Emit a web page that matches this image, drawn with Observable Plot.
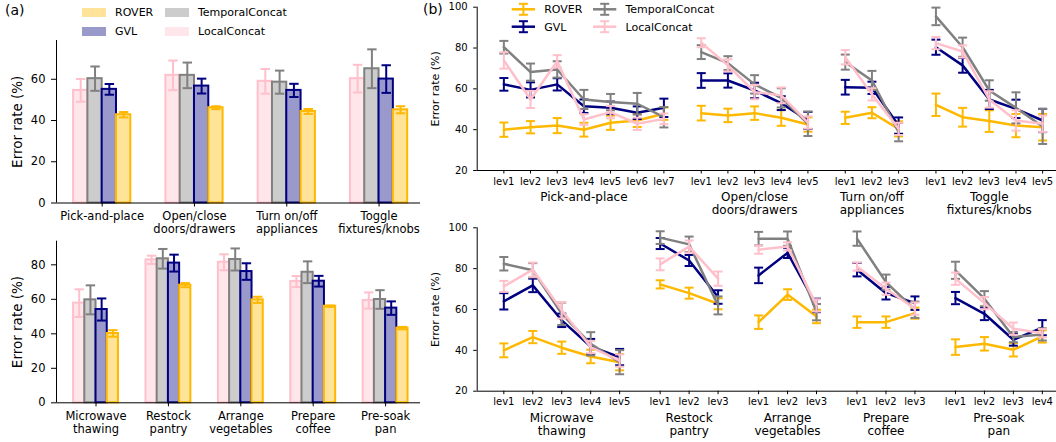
<!DOCTYPE html>
<html><head><meta charset="utf-8">
<script src="https://cdn.jsdelivr.net/npm/d3@7"></script>
<script src="https://cdn.jsdelivr.net/npm/@observablehq/plot@0.6"></script>
<style>
body{margin:0;background:#fff;}
#root{position:relative;width:1056px;height:442px;overflow:hidden;font-family:"DejaVu Sans",sans-serif;background:#fff;}
.panel{position:absolute;}
.lbl{position:absolute;font-size:14px;line-height:1;}
</style></head><body>
<div id="root">
  <div class="panel" id="a1" style="left:0;top:0;width:420px;"></div>
  <div class="panel" id="a2" style="left:0;top:240px;width:420px;"></div>
  <div class="panel" id="b1" style="left:420px;top:0;width:636px;"></div>
  <div class="panel" id="b2" style="left:420px;top:225px;width:636px;"></div>
  <div class="lbl" style="left:5px;top:3px;">(a)</div>
  <div class="lbl" style="left:423px;top:2px;">(b)</div>
</div>
<script>
// ---------- data: panel (a) top ----------
const tasksA1 = ["Pick-and-place", "Open/close\ndoors/drawers", "Turn on/off\nappliances", "Toggle\nfixtures/knobs"];
const a1Local = [54.6, 61.9, 59.0, 60.3];
const a1LocalErr = [5.5, 7.2, 6.0, 6.7];
const a1Temporal = [60.3, 61.9, 58.6, 65.1];
const a1TemporalErr = [5.9, 6.2, 5.6, 9.4];
const a1GVL = [55.1, 56.7, 54.6, 60.1];
const a1GVLErr = [2.6, 3.6, 3.2, 6.7];
const a1Rover = [42.8, 46.2, 44.4, 45.2];
const a1RoverErr = [1.3, 0.7, 1.2, 1.7];

// ---------- data: panel (a) bottom ----------
const tasksA2 = ["Microwave\nthawing", "Restock\npantry", "Arrange\nvegetables", "Prepare\ncoffee", "Pre-soak\npan"];
const a2Local = [57.8, 82.9, 81.5, 70.3, 59.3];
const a2LocalErr = [8.0, 2.4, 4.6, 3.2, 4.7];
const a2Temporal = [59.7, 83.5, 83.1, 75.7, 59.9];
const a2TemporalErr = [8.4, 5.7, 6.4, 6.3, 5.4];
const a2GVL = [54.1, 81.0, 76.1, 70.5, 54.9];
const a2GVLErr = [6.4, 4.9, 4.8, 3.1, 3.9];
const a2Rover = [40.2, 68.2, 59.7, 56.0, 43.3];
const a2RoverErr = [1.9, 1.2, 1.8, 0.4, 0.7];

// ---------- data: panel (b) top ----------
const tasksB1 = ["Pick-and-place", "Open/close\ndoors/drawers", "Turn on/off\nappliances", "Toggle\nfixtures/knobs"];
const b1Rover = [[40, 41.2, 42, 40, 43.4, 44.5, 47.8], [48.1, 47, 48.1, 45.8, 42.5], [45.8, 48.3, 40.4], [52.2, 46.1, 44.2, 42, 41.2]];
const b1RoverErr = [[3.5, 3, 3.7, 3.4, 3.5, 3.2, 3], [3.6, 3.3, 3.3, 3.9, 3.5], [3, 2.7, 3.7], [5.5, 4.6, 5.3, 5.7, 6.5]];
const b1GVL = [[62.2, 59.5, 62.2, 51.5, 50.7, 48.3, 50.7], [64.1, 64.1, 59.2, 53, 44.5], [60.8, 60.5, 42], [80.4, 71.5, 54.8, 50.2, 44.5]];
const b1GVLErr = [[3.1, 3.7, 3, 3.3, 3.1, 3.1, 4.5], [3.6, 3.5, 3.8, 3.4, 4.2], [3.6, 3, 4], [3.7, 3.6, 4.7, 4.5, 5.7]];
const b1Temporal = [[80.4, 68.2, 69.5, 54.8, 53.5, 52.7, 46.1], [78, 72.6, 62.2, 55.6, 42.9], [73.1, 64.1, 38.8], [95.5, 80.4, 59.2, 50.7, 41.6]];
const b1TemporalErr = [[3.1, 4.2, 4, 4.7, 4, 5.3, 5], [3.4, 3.4, 4.5, 4.7, 6], [3.7, 4.7, 4.5], [4.3, 4.7, 5, 7.6, 8.6]];
const b1Local = [[73.9, 54.8, 73.5, 45, 48.6, 42.9, 45.3], [82.6, 71.5, 58.4, 56.8, 43.5], [75.5, 57.3, 40.4], [82.4, 78.3, 54.8, 44.5, 42.9]];
const b1LocalErr = [[4, 4.2, 3, 2.6, 3, 3, 2.6], [2.2, 3, 3.5, 3.9, 3], [3.5, 3, 3], [3, 3, 4, 5, 4]];

// ---------- data: panel (b) bottom ----------
const tasksB2 = ["Microwave\nthawing", "Restock\npantry", "Arrange\nvegetables", "Prepare\ncoffee", "Pre-soak\npan"];
const b2Rover = [[40, 46.5, 41.3, 37, 34.2], [72.3, 68, 62.8], [53.8, 67.3, 56.6], [53.8, 53.8, 58.2], [41.6, 43.2, 40.3, 46.8]];
const b2RoverErr = [[3.4, 3, 3, 3.3, 4], [2, 2.7, 2.7], [3.3, 2.6, 3.3], [2.8, 2.8, 2.7], [3.8, 3.3, 3.3, 3]];
const b2GVL = [[64, 71.8, 54.7, 41.9, 36.7], [92.3, 84, 66.1], [76.7, 87.7, 62], [79.5, 68, 63.1], [65.6, 57.9, 45.2, 51.1]];
const b2GVLErr = [[4, 3.3, 3.3, 3.7, 4], [2.7, 2.7, 3.3], [3.8, 2.5, 3.3], [3.3, 3.1, 3.3], [3, 3.1, 2.9, 3.7]];
const b2Temporal = [[82.4, 79.2, 57.9, 43.2, 34.2], [95.2, 91.9, 62], [94.7, 94.7, 58.7], [94.7, 73.4, 59.9], [79.2, 65.3, 46.5, 47.8]];
const b2TemporalErr = [[3.3, 3.5, 5.5, 5.7, 5.9], [3.1, 3.8, 4.4], [3.3, 3.5, 4], [3.5, 3.7, 4], [4.2, 3.7, 2.5, 3]];
const b2Local = [[71.3, 79.5, 59.6, 41.6, 35], [82.1, 90.8, 75.1], [89.3, 90.9, 62], [81, 70.2, 60.4], [75.1, 63.1, 50.6, 48.4]];
const b2LocalErr = [[2.7, 3.5, 4, 3, 3], [2.9, 3, 3.5], [2, 2, 3], [2, 3, 3], [3, 3, 3, 2]];

// ---------- styles ----------
const barOrder = ["LocalConcat", "TemporalConcat", "GVL", "ROVER"];
const lineOrder = ["ROVER", "GVL", "TemporalConcat", "LocalConcat"];
const lineColor = {ROVER: "#FFB800", GVL: "#000080", TemporalConcat: "#808080", LocalConcat: "#FFC0CB"};
const fillColor = {ROVER: "#FFE399", GVL: "#9999CC", TemporalConcat: "#CCCCCC", LocalConcat: "#FFE6EA"};
const FONT = "DejaVu Sans";
const cap = {draw(ctx, size) { const r = Math.sqrt(size / Math.PI); ctx.moveTo(-r, 0); ctx.lineTo(r, 0); }};

function barPanel(o) {
  const w = 0.155;
  const marks = [];
  barOrder.forEach((s, k) => {
    const rows = o.tasks.map((t, i) => ({i, v: o.vals[s][i], e: o.errs[s][i]}));
    const off = (k - 2) * w;
    marks.push(Plot.rect(rows, {x1: d => d.i + off, x2: d => d.i + off + w, y1: d => 0, y2: "v",
      fill: fillColor[s], stroke: lineColor[s], strokeWidth: 2}));
    const cx = d => d.i + off + w / 2;
    marks.push(Plot.ruleX(rows, {x: cx, y1: d => d.v - d.e, y2: d => d.v + d.e, stroke: lineColor[s], strokeWidth: 2}));
    marks.push(Plot.dot(rows, {x: cx, y: d => d.v - d.e, symbol: cap, r: 4.7, stroke: lineColor[s], strokeWidth: 2, fill: "none"}));
    marks.push(Plot.dot(rows, {x: cx, y: d => d.v + d.e, symbol: cap, r: 4.7, stroke: lineColor[s], strokeWidth: 2, fill: "none"}));
  });
  marks.push(Plot.ruleX([o.xdom[0]], {stroke: "black", strokeWidth: 1}));
  marks.push(Plot.ruleY([o.ydom[0]], {stroke: "black", strokeWidth: 1}));
  marks.push(Plot.axisY({ticks: o.yticks, tickSize: 5, tickPadding: 6, label: null, fontSize: 11.5}));
  marks.push(Plot.axisX({ticks: o.tasks.map((t, i) => i), tickFormat: () => "", tickSize: 4, label: null}));
  marks.push(Plot.text(o.tasks, {x: (d, i) => i, y: d => o.ydom[0], dy: 8.5, lineAnchor: "top", lineHeight: 1.1, fontSize: 11.5, fill: "black", textAnchor: "middle"}));
  marks.push(Plot.text(["Error rate (%)"], {frameAnchor: "left", textAnchor: "middle", lineAnchor: "middle", rotate: -90, dx: -39, fontSize: 13.5, fill: "black"}));
  return Plot.plot({
    width: o.width, height: o.height, marginTop: o.mt, marginBottom: o.mb, marginLeft: 56, marginRight: 0,
    x: {domain: o.xdom}, y: {domain: o.ydom},
    style: {fontFamily: FONT, fontSize: "11.5px", background: "none", overflow: "visible", maxWidth: "none"},
    marks
  });
}

function linePanel(o) {
  const rows = [];
  const levelTicks = [], levelLabels = new Map(), groupRows = [];
  let cum = 0;
  o.tasks.forEach((t, ti) => {
    const n = o.vals.ROVER[ti].length;
    const pos = [];
    for (let j = 0; j < n; j++) {
      const p = cum + j + 0.4 * ti;
      pos.push(p);
      levelTicks.push(p);
      levelLabels.set(p, "lev" + (j + 1));
      lineOrder.forEach(s => rows.push({s, t: ti, p, v: o.vals[s][ti][j], e: o.errs[s][ti][j]}));
    }
    groupRows.push({label: t, p: (pos[0] + pos[n - 1]) / 2});
    cum += n;
  });
  const marks = [];
  lineOrder.forEach(s => {
    const r = rows.filter(d => d.s === s);
    marks.push(Plot.line(r, {x: "p", y: "v", z: "t", stroke: lineColor[s], strokeWidth: 2.5}));
    marks.push(Plot.ruleX(r, {x: "p", y1: d => d.v - d.e, y2: d => d.v + d.e, stroke: lineColor[s], strokeWidth: 2}));
    marks.push(Plot.dot(r, {x: "p", y: d => d.v - d.e, symbol: cap, r: 4.5, stroke: lineColor[s], strokeWidth: 2, fill: "none"}));
    marks.push(Plot.dot(r, {x: "p", y: d => d.v + d.e, symbol: cap, r: 4.5, stroke: lineColor[s], strokeWidth: 2, fill: "none"}));
  });
  marks.push(Plot.ruleX([o.xdom[0]], {stroke: "black", strokeWidth: 1}));
  marks.push(Plot.ruleY([20], {stroke: "black", strokeWidth: 1}));
  marks.push(Plot.axisY({ticks: [20, 40, 60, 80, 100], tickSize: 3.5, tickPadding: 6, label: null, fontSize: 10}));
  marks.push(Plot.axisX({ticks: levelTicks, tickFormat: d => levelLabels.get(d), tickSize: 3.5, tickPadding: 3.5, label: null, fontSize: 10}));
  marks.push(Plot.text(groupRows, {x: "p", y: d => 20, text: "label", dy: o.gdy, lineAnchor: "top", lineHeight: 1.1, fontSize: 12, fill: "black", textAnchor: "middle"}));
  marks.push(Plot.text(["Error rate (%)"], {frameAnchor: "left", textAnchor: "middle", lineAnchor: "middle", rotate: -90, dx: -41.5, fontSize: 11, fill: "black"}));
  return Plot.plot({
    width: 636, height: o.height, marginTop: o.mt, marginBottom: o.mb, marginLeft: 56.7, marginRight: 0,
    x: {domain: o.xdom}, y: {domain: [20, 100]},
    style: {fontFamily: FONT, fontSize: "10px", background: "none", overflow: "visible", maxWidth: "none"},
    marks
  });
}

document.getElementById("a1").append(barPanel({
  tasks: tasksA1,
  vals: {LocalConcat: a1Local, TemporalConcat: a1Temporal, GVL: a1GVL, ROVER: a1Rover},
  errs: {LocalConcat: a1LocalErr, TemporalConcat: a1TemporalErr, GVL: a1GVLErr, ROVER: a1RoverErr},
  width: 420, height: 240, mt: 40, mb: 37.5, xdom: [-0.495, 3.449], ydom: [0, 78.8], yticks: [0, 20, 40, 60]
}));
document.getElementById("a2").append(barPanel({
  tasks: tasksA2,
  vals: {LocalConcat: a2Local, TemporalConcat: a2Temporal, GVL: a2GVL, ROVER: a2Rover},
  errs: {LocalConcat: a2LocalErr, TemporalConcat: a2TemporalErr, GVL: a2GVLErr, ROVER: a2RoverErr},
  width: 420, height: 202, mt: 0.7, mb: 39.7, xdom: [-0.546, 4.482], ydom: [0, 93.7], yticks: [0, 20, 40, 60, 80]
}));
document.getElementById("b1").append(linePanel({
  tasks: tasksB1,
  vals: {ROVER: b1Rover, GVL: b1GVL, TemporalConcat: b1Temporal, LocalConcat: b1Local},
  errs: {ROVER: b1RoverErr, GVL: b1GVLErr, TemporalConcat: b1TemporalErr, LocalConcat: b1LocalErr},
  height: 225, mt: 6.7, mb: 55, xdom: [-1.0, 20.72], gdy: 21
}));
document.getElementById("b2").append(linePanel({
  tasks: tasksB2,
  vals: {ROVER: b2Rover, GVL: b2GVL, TemporalConcat: b2Temporal, LocalConcat: b2Local},
  errs: {ROVER: b2RoverErr, GVL: b2GVLErr, TemporalConcat: b2TemporalErr, LocalConcat: b2LocalErr},
  height: 217, mt: 2.3, mb: 51.3, xdom: [-0.92, 19.09], gdy: 21.5
}));

// ---------- legends ----------
const leg = d3.select("#root").append("svg")
  .attr("width", 1056).attr("height", 442)
  .style("position", "absolute").style("left", 0).style("top", 0).style("pointer-events", "none")
  .style("font-family", FONT).style("font-size", "11px");
const legA = [
  {s: "ROVER", x: 82, y: 12.5}, {s: "GVL", x: 82, y: 31.5},
  {s: "TemporalConcat", x: 165, y: 12.5}, {s: "LocalConcat", x: 165, y: 31.5}
];
legA.forEach(d => {
  leg.append("rect").attr("x", d.x).attr("y", d.y - 4.5).attr("width", 24).attr("height", 9).attr("fill", fillColor[d.s]);
  leg.append("text").attr("x", d.x + 33).attr("y", d.y).attr("dy", "0.35em").text(d.s);
});
const legB = [
  {s: "ROVER", x: 511.7, y: 9.3}, {s: "GVL", x: 511.7, y: 26.7},
  {s: "TemporalConcat", x: 593, y: 9.3}, {s: "LocalConcat", x: 593, y: 26.7}
];
legB.forEach(d => {
  const c = lineColor[d.s], cx = d.x + 11.7;
  leg.append("line").attr("x1", d.x).attr("x2", d.x + 23.3).attr("y1", d.y).attr("y2", d.y).attr("stroke", c).attr("stroke-width", 2.5);
  leg.append("line").attr("x1", cx).attr("x2", cx).attr("y1", d.y - 5.5).attr("y2", d.y + 5.5).attr("stroke", c).attr("stroke-width", 2);
  leg.append("line").attr("x1", cx - 4.5).attr("x2", cx + 4.5).attr("y1", d.y - 5.5).attr("y2", d.y - 5.5).attr("stroke", c).attr("stroke-width", 2);
  leg.append("line").attr("x1", cx - 4.5).attr("x2", cx + 4.5).attr("y1", d.y + 5.5).attr("y2", d.y + 5.5).attr("stroke", c).attr("stroke-width", 2);
  leg.append("text").attr("x", d.x + 32.5).attr("y", d.y).attr("dy", "0.35em").text(d.s);
});
</script>
</body></html>
